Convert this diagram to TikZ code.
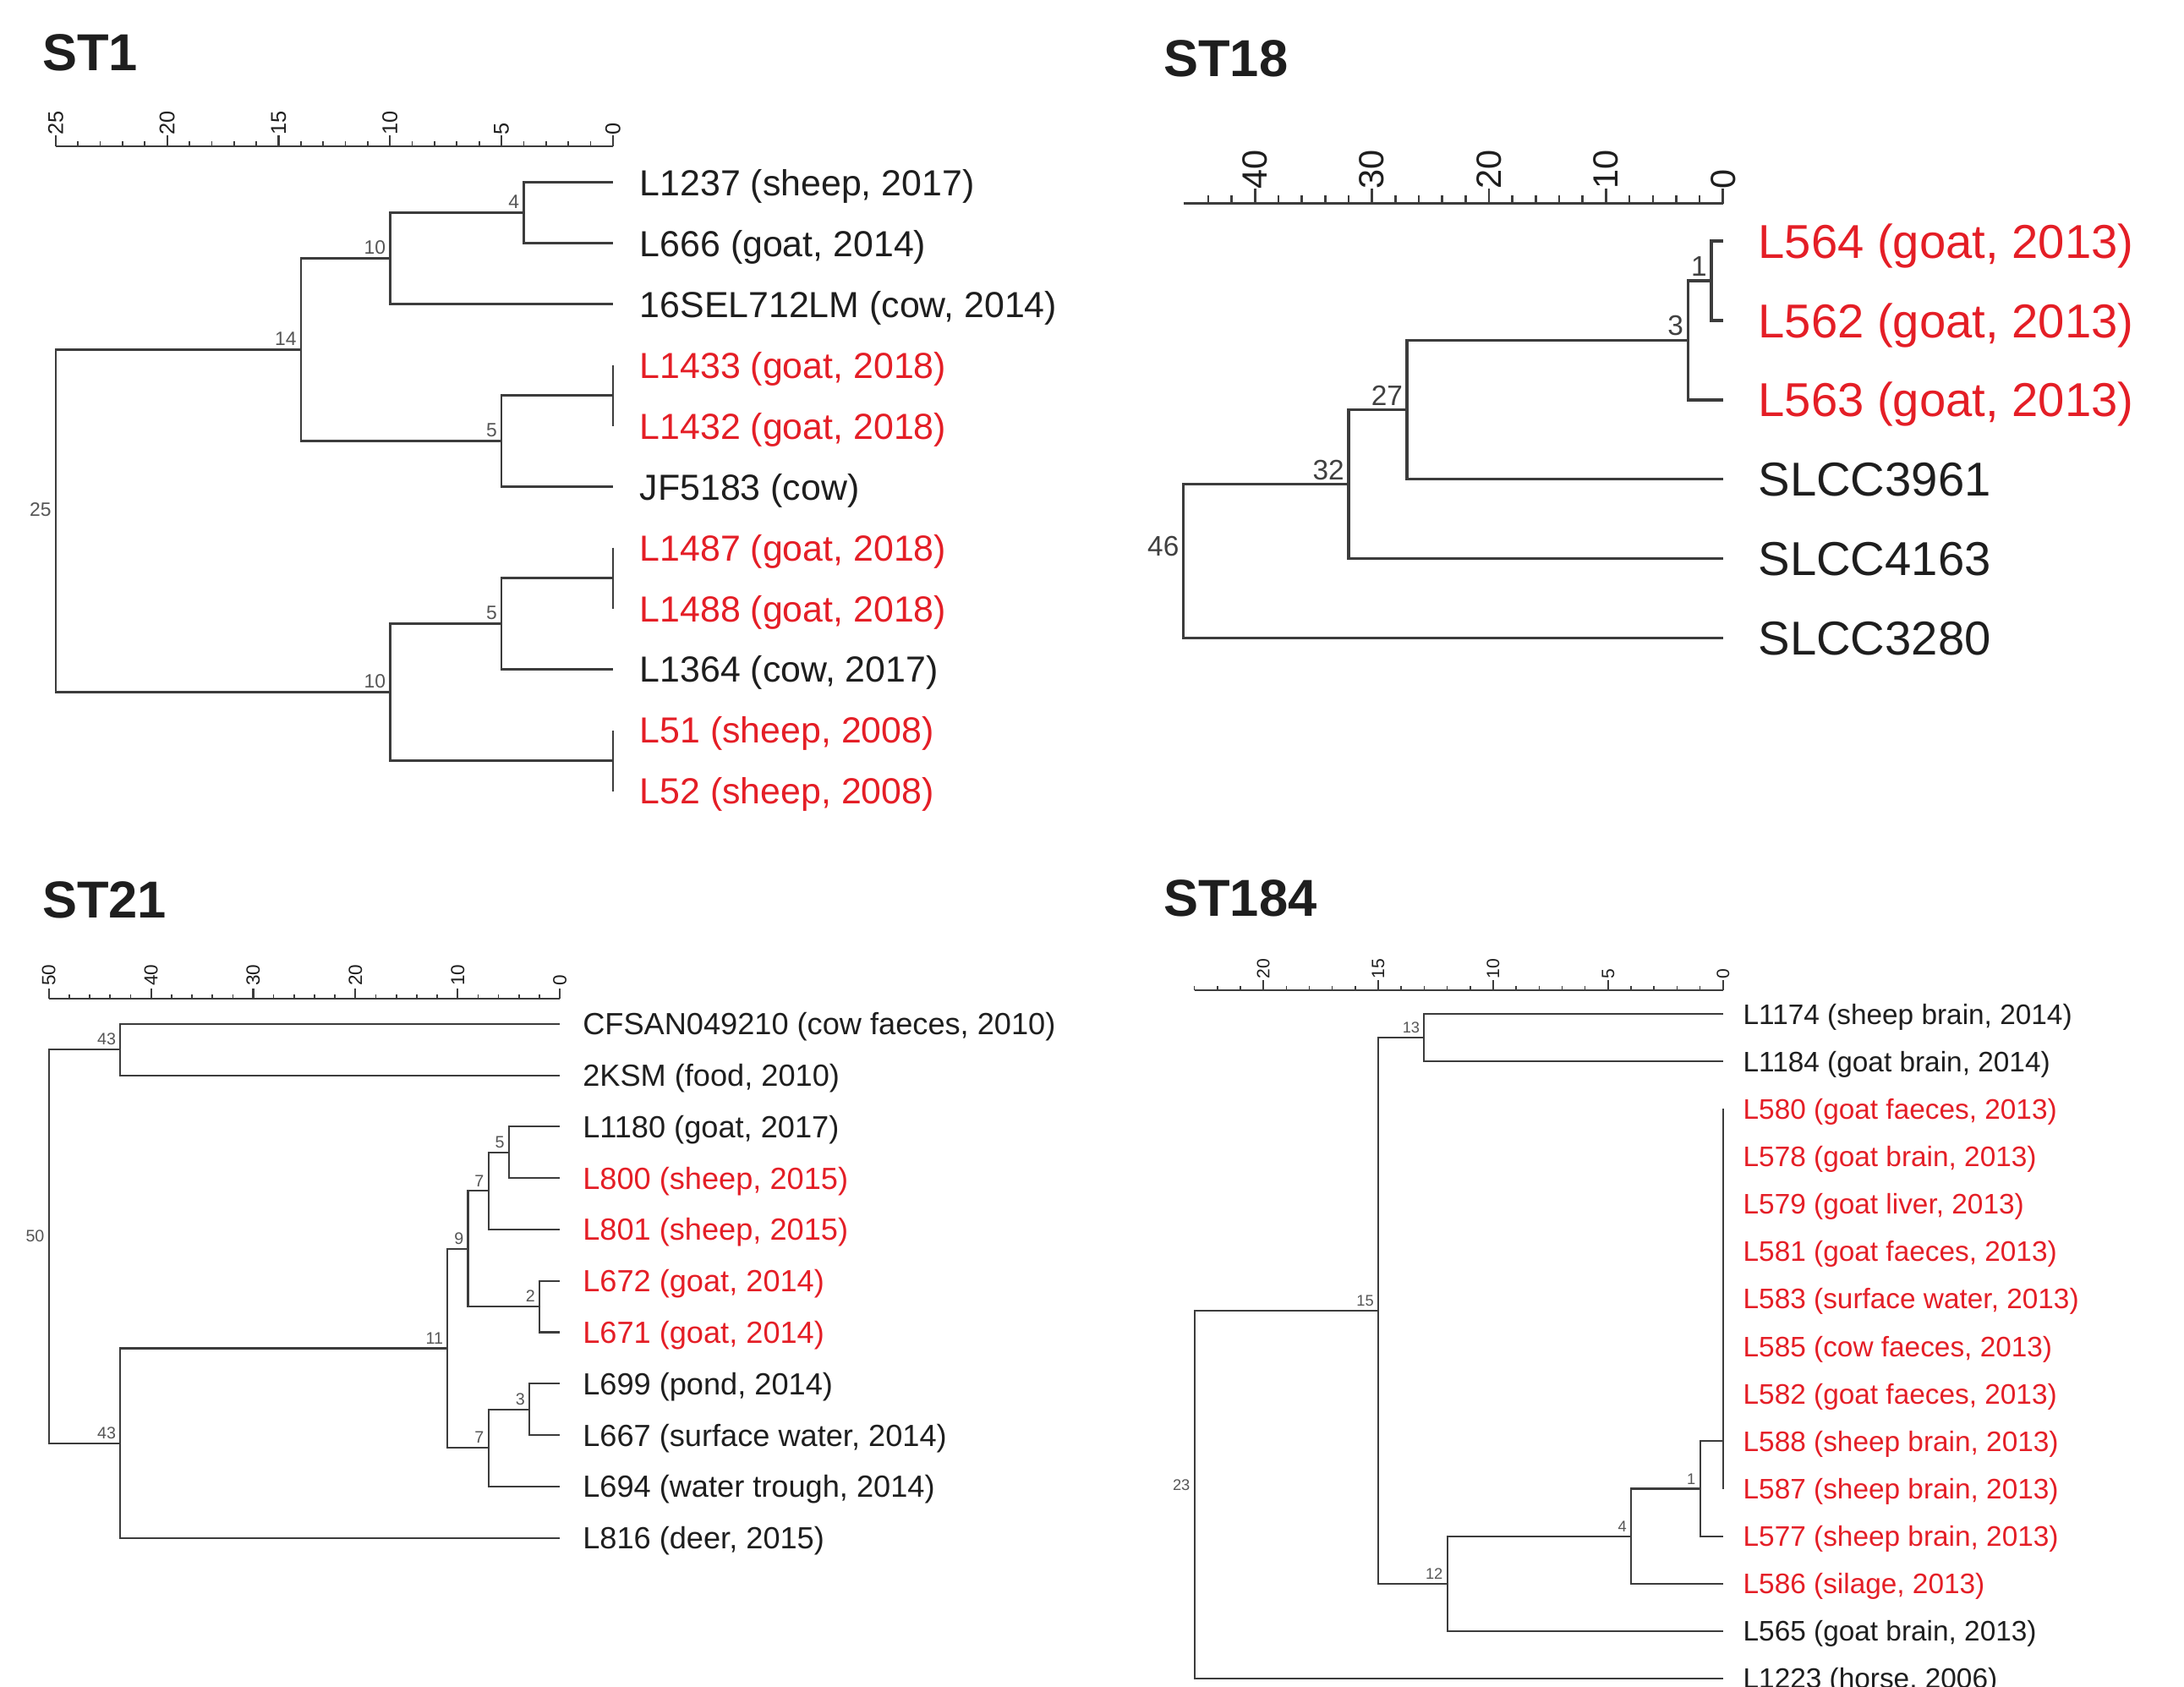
\documentclass[tikz,border=0pt]{standalone}
\usepackage{fontspec}
\setmainfont{Liberation Sans}
\usetikzlibrary{positioning}
\definecolor{isored}{RGB}{228,30,38}
\definecolor{treeline}{RGB}{60,60,60}
\definecolor{leafblack}{RGB}{30,30,30}
\definecolor{nodegray}{RGB}{85,85,85}

\begin{document}
\begin{tikzpicture}[
    x=0.016473cm, y=-0.016473cm,
    title/.style={anchor=west, inner sep=0pt, text=leafblack,
        font=\bfseries\fontsize{17.5}{20}\selectfont},
    br1/.style={draw=treeline, line width=0.75pt},
    br2/.style={draw=treeline, line width=1pt},
    br3/.style={draw=treeline, line width=0.6pt},
    br4/.style={draw=treeline, line width=0.6pt},
    leafA/.style={inner sep=0pt, text height=8.7pt, text depth=0pt,
        font=\fontsize{12.2}{14}\selectfont},
    leafB/.style={inner sep=0pt, text height=11.5pt, text depth=0pt,
        font=\fontsize{16}{18}\selectfont},
    leafC/.style={inner sep=0pt, text height=7.4pt, text depth=0pt,
        font=\fontsize{10.3}{12}\selectfont},
    leafD/.style={inner sep=0pt, text height=6.8pt, text depth=0pt,
        font=\fontsize{9.5}{11}\selectfont},
    axl/.style={rotate=90, anchor=west, inner sep=0pt, text=leafblack},
    nlab/.style={anchor=south east, inner sep=1.3pt, text=nodegray}
]
\useasboundingbox (0,0) rectangle (1568,1211);

% ---------------- ST1 ----------------
\node[title] (t1) at (30,38) {ST1};

% scale bar
\coordinate (ax1l) at (40,105);
\coordinate (ax1r) at (440,105);
\draw[br1, line width=0.6pt] (ax1l) -- (ax1r);
\foreach \v in {0,...,25}
    \draw[br1, line width=0.5pt] (440-16*\v,105) -- ++(0,1.8pt);
\foreach \v in {0,5,...,25} {
    \draw[br1, line width=0.6pt] (440-16*\v,105) -- ++(0,3.6pt);
    \node[axl, font=\fontsize{7.2}{8}\selectfont] at (440-16*\v,97) {\v};
}

% leaves
\foreach \i/\y/\c/\lab in {
    1/131/leafblack/{L1237 (sheep, 2017)},
    2/174.7/leafblack/{L666 (goat, 2014)},
    3/218.4/leafblack/{16SEL712LM (cow, 2014)},
    4/262.1/isored/{L1433 (goat, 2018)},
    5/305.8/isored/{L1432 (goat, 2018)},
    6/349.5/leafblack/{JF5183 (cow)},
    7/393.2/isored/{L1487 (goat, 2018)},
    8/436.9/isored/{L1488 (goat, 2018)},
    9/480.6/leafblack/{L1364 (cow, 2017)},
    10/524.3/isored/{L51 (sheep, 2008)},
    11/568/isored/{L52 (sheep, 2008)}} {
    \coordinate (s1-\i) at (440,\y);
    \node[leafA, text=\c, right=8.9pt of s1-\i] (s1-\i-lab) {\lab};
}

% inner nodes
\coordinate (s1a) at (376,152.85);
\coordinate (s1b) at (280,185.6);
\coordinate (s1p0) at (440,283.95);
\coordinate (s1c) at (360,316.7);
\coordinate (s1d) at (216,251.2);
\coordinate (s1p1) at (440,415.05);
\coordinate (s1e) at (360,447.8);
\coordinate (s1p2) at (440,546.15);
\coordinate (s1f) at (280,497);
\coordinate (s1r) at (40,374.1);

\draw[br1] (s1-1) -| (s1a) |- (s1-2);
\draw[br1] (s1a) -| (s1b) |- (s1-3);
\draw[br1] (s1-4) -| (s1p0) |- (s1-5);
\draw[br1] (s1p0) -| (s1c) |- (s1-6);
\draw[br1] (s1b) -| (s1d) |- (s1c);
\draw[br1] (s1-7) -| (s1p1) |- (s1-8);
\draw[br1] (s1p1) -| (s1e) |- (s1-9);
\draw[br1] (s1-10) -| (s1p2) |- (s1-11);
\draw[br1] (s1e) -| (s1f) |- (s1p2);
\draw[br1] (s1d) -| (s1r) |- (s1f);

\foreach \n/\v in {s1a/4, s1b/10, s1c/5, s1d/14, s1e/5, s1f/10, s1r/25}
    \node[nlab, font=\fontsize{6.5}{7}\selectfont] at (\n) {\v};

% ---------------- ST18 ----------------
\node[title] (t18) at (835,42) {ST18};

% scale bar
\coordinate (ax2l) at (849.6,146);
\coordinate (ax2r) at (1237,146);
\draw[br2, line width=0.8pt] (ax2l) -- (ax2r);
\foreach \v in {0,2,...,44}
    \draw[br2, line width=0.7pt] (1237-8.4*\v,146) -- ++(0,2.6pt);
\foreach \v in {0,10,...,40} {
    \draw[br2, line width=0.8pt] (1237-8.4*\v,146) -- ++(0,5pt);
    \node[axl, font=\fontsize{11.8}{13}\selectfont] at (1237-8.4*\v,136) {\v};
}

% leaves
\foreach \i/\y/\c/\lab in {
    1/173/isored/{L564 (goat, 2013)},
    2/230/isored/{L562 (goat, 2013)},
    3/287/isored/{L563 (goat, 2013)},
    4/344/leafblack/{SLCC3961},
    5/401/leafblack/{SLCC4163},
    6/458/leafblack/{SLCC3280}} {
    \coordinate (s18-\i) at (1237,\y);
    \node[leafB, text=\c, right=11.7pt of s18-\i] (s18-\i-lab) {\lab};
}

% inner nodes
\coordinate (s18a) at (1228.6,201.5);
\coordinate (s18b) at (1211.8,244.25);
\coordinate (s18c) at (1010.2,294.1);
\coordinate (s18d) at (968.2,347.6);
\coordinate (s18r) at (849.6,402.8);

\draw[br2] (s18-1) -| (s18a) |- (s18-2);
\draw[br2] (s18a) -| (s18b) |- (s18-3);
\draw[br2] (s18b) -| (s18c) |- (s18-4);
\draw[br2] (s18c) -| (s18d) |- (s18-5);
\draw[br2] (s18d) -| (s18r) |- (s18-6);

\foreach \n/\v in {s18a/1, s18b/3, s18c/27, s18d/32, s18r/46}
    \node[nlab, text=leafblack!85, font=\fontsize{9.5}{11}\selectfont] at (\n) {\v};

% ---------------- ST21 ----------------
\node[title] (t21) at (30,646) {ST21};

% scale bar
\coordinate (ax3l) at (35,717);
\coordinate (ax3r) at (402,717);
\draw[br3] (ax3l) -- (ax3r);
\foreach \v in {0,2,...,50}
    \draw[br3, line width=0.45pt] (402-7.34*\v,717) -- ++(0,1.6pt);
\foreach \v in {0,10,...,50} {
    \draw[br3] (402-7.34*\v,717) -- ++(0,3.4pt);
    \node[axl, font=\fontsize{6.4}{7}\selectfont] at (402-7.34*\v,708) {\v};
}

% leaves
\foreach \i/\y/\c/\lab in {
    1/735/leafblack/{CFSAN049210 (cow faeces, 2010)},
    2/771.9/leafblack/{2KSM (food, 2010)},
    3/808.8/leafblack/{L1180 (goat, 2017)},
    4/845.7/isored/{L800 (sheep, 2015)},
    5/882.6/isored/{L801 (sheep, 2015)},
    6/919.5/isored/{L672 (goat, 2014)},
    7/956.4/isored/{L671 (goat, 2014)},
    8/993.3/leafblack/{L699 (pond, 2014)},
    9/1030.2/leafblack/{L667 (surface water, 2014)},
    10/1067.1/leafblack/{L694 (water trough, 2014)},
    11/1104/leafblack/{L816 (deer, 2015)}} {
    \coordinate (s21-\i) at (402,\y);
    \node[leafC, text=\c, right=7.5pt of s21-\i] (s21-\i-lab) {\lab};
}

% inner nodes
\coordinate (s21a) at (86.4,753.45);
\coordinate (s21b) at (365.3,827.25);
\coordinate (s21c) at (350.6,854.9);
\coordinate (s21d) at (387.3,937.95);
\coordinate (s21e) at (336,896.4);
\coordinate (s21f) at (380,1011.75);
\coordinate (s21g) at (350.6,1039.4);
\coordinate (s21h) at (321.3,967.9);
\coordinate (s21i) at (86.4,1035.95);
\coordinate (s21r) at (35,894.7);

\draw[br3] (s21-1) -| (s21a) |- (s21-2);
\draw[br3] (s21-3) -| (s21b) |- (s21-4);
\draw[br3] (s21b) -| (s21c) |- (s21-5);
\draw[br3] (s21-6) -| (s21d) |- (s21-7);
\draw[br3] (s21c) -| (s21e) |- (s21d);
\draw[br3] (s21-8) -| (s21f) |- (s21-9);
\draw[br3] (s21f) -| (s21g) |- (s21-10);
\draw[br3] (s21e) -| (s21h) |- (s21g);
\draw[br3] (s21h) -| (s21i) |- (s21-11);
\draw[br3] (s21a) -| (s21r) |- (s21i);

\foreach \n/\v in {s21a/43, s21b/5, s21c/7, s21d/2, s21e/9, s21f/3,
                   s21g/7, s21h/11, s21i/43, s21r/50}
    \node[nlab, font=\fontsize{5.6}{6}\selectfont] at (\n) {\v};

% ---------------- ST184 ----------------
\node[title] (t184) at (835,645) {ST184};

% scale bar
\coordinate (ax4l) at (857.5,711);
\coordinate (ax4r) at (1237,711);
\draw[br4] (ax4l) -- (ax4r);
\foreach \v in {0,...,23}
    \draw[br4, line width=0.45pt] (1237-16.5*\v,711) -- ++(0,1.6pt);
\foreach \v in {0,5,...,20} {
    \draw[br4] (1237-16.5*\v,711) -- ++(0,3.4pt);
    \node[axl, font=\fontsize{6}{7}\selectfont] at (1237-16.5*\v,703) {\v};
}

% leaves
\foreach \i/\y/\c/\lab in {
    1/728/leafblack/{L1174 (sheep brain, 2014)},
    2/762.1/leafblack/{L1184 (goat brain, 2014)},
    3/796.1/isored/{L580 (goat faeces, 2013)},
    4/830.2/isored/{L578 (goat brain, 2013)},
    5/864.3/isored/{L579 (goat liver, 2013)},
    6/898.4/isored/{L581 (goat faeces, 2013)},
    7/932.4/isored/{L583 (surface water, 2013)},
    8/966.5/isored/{L585 (cow faeces, 2013)},
    9/1000.6/isored/{L582 (goat faeces, 2013)},
    10/1034.6/isored/{L588 (sheep brain, 2013)},
    11/1068.7/isored/{L587 (sheep brain, 2013)},
    12/1102.8/isored/{L577 (sheep brain, 2013)},
    13/1136.8/isored/{L586 (silage, 2013)},
    14/1170.9/leafblack/{L565 (goat brain, 2013)},
    15/1205/leafblack/{L1223 (horse, 2006)}} {
    \coordinate (s184-\i) at (1237,\y);
    \node[leafD, text=\c, right=6.6pt of s184-\i] (s184-\i-lab) {\lab};
}

% inner nodes
\coordinate (s184a) at (1022.5,745.05);
\coordinate (s184z) at (1237,1034.6);
\coordinate (s184b) at (1220.5,1068.7);
\coordinate (s184c) at (1171,1102.75);
\coordinate (s184d) at (1039,1136.8);
\coordinate (s184e) at (989.5,940.9);
\coordinate (s184r) at (857.5,1072.95);

\draw[br4] (s184-1) -| (s184a) |- (s184-2);
\draw[br4] (s184-3) -- (s184-11);
\draw[br4] (s184z) -| (s184b) |- (s184-12);
\draw[br4] (s184b) -| (s184c) |- (s184-13);
\draw[br4] (s184c) -| (s184d) |- (s184-14);
\draw[br4] (s184a) -| (s184e) |- (s184d);
\draw[br4] (s184e) -| (s184r) |- (s184-15);

\foreach \n/\v in {s184a/13, s184b/1, s184c/4, s184d/12, s184e/15, s184r/23}
    \node[nlab, font=\fontsize{5.2}{6}\selectfont] at (\n) {\v};

\end{tikzpicture}
\end{document}
